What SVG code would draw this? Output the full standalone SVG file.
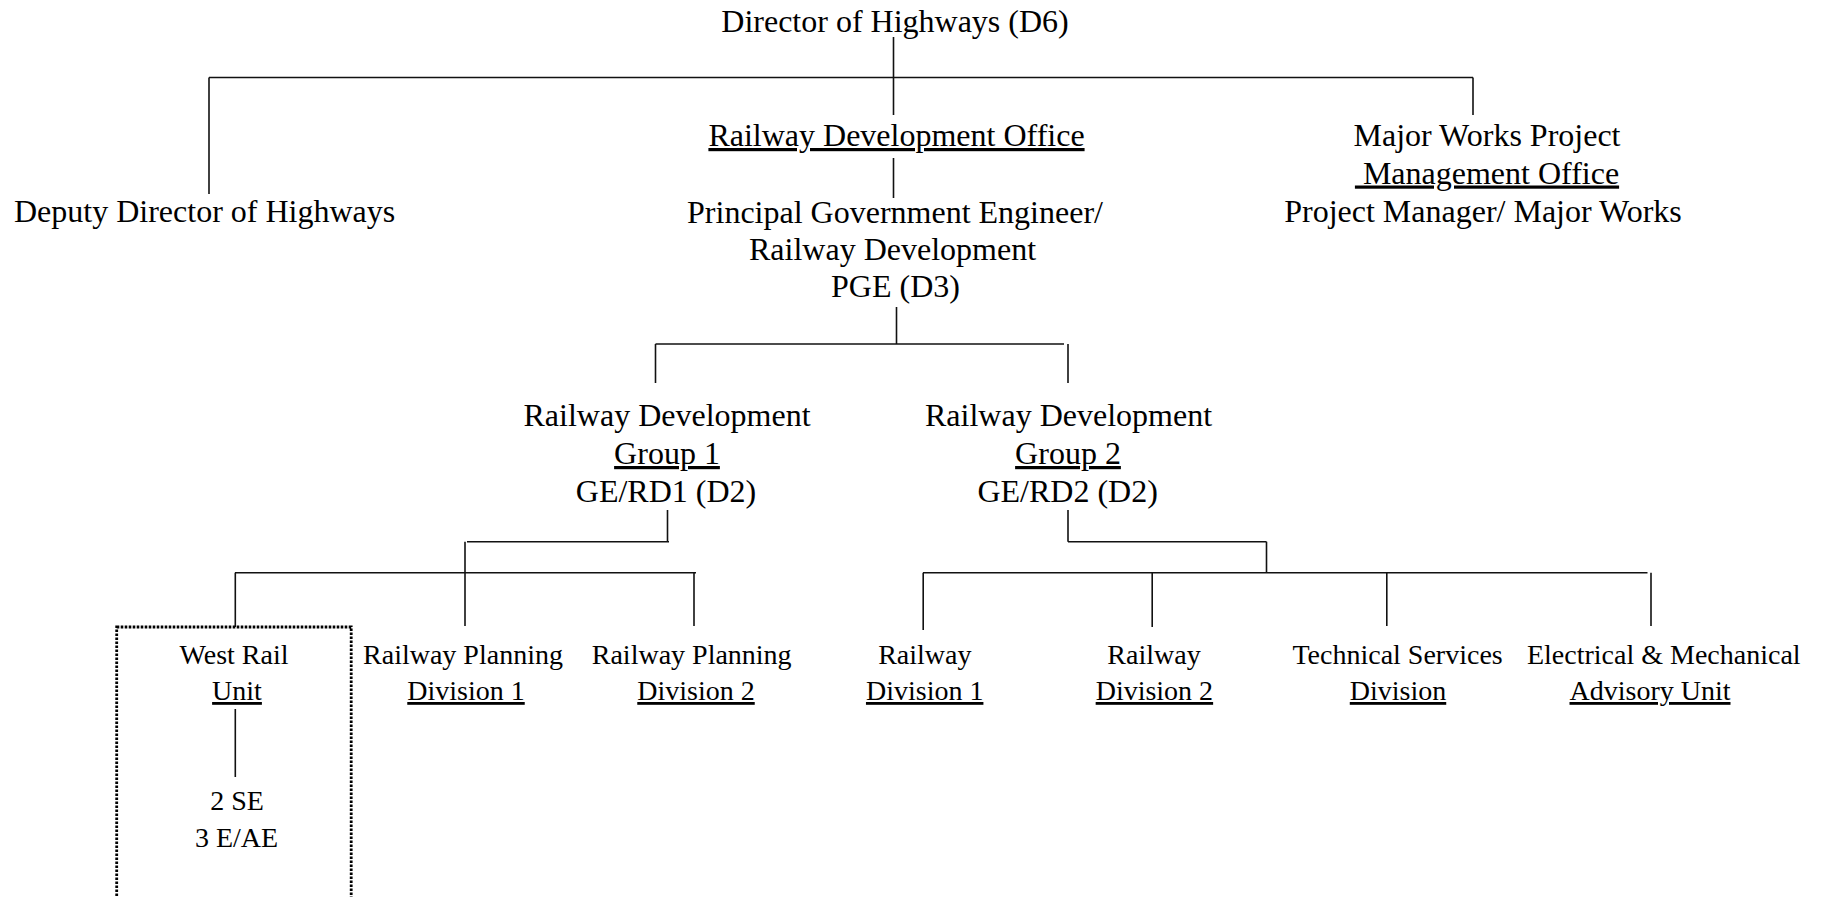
<svg xmlns="http://www.w3.org/2000/svg" width="1823" height="897" viewBox="0 0 1823 897">
<style>
text{font-family:"Liberation Serif","Times New Roman",serif;fill:#000;text-anchor:middle}
.l{font-size:32px}
.s{font-size:28px}
.u{text-decoration:underline}
.c line{stroke:#111;stroke-width:1.6;fill:none}
.dot{fill:none;stroke:#000;stroke-width:2.8;stroke-dasharray:2.6 1.4}
</style>
<rect width="1823" height="897" fill="#fff"/>
<g id="connectors" class="c">
<line x1="893.5" y1="37" x2="893.5" y2="115"/>
<line x1="209" y1="77.5" x2="1473" y2="77.5"/>
<line x1="209" y1="77.5" x2="209" y2="194"/>
<line x1="1473" y1="77.5" x2="1473" y2="115"/>
<line x1="893.5" y1="158" x2="893.5" y2="198"/>
<line x1="896.5" y1="307" x2="896.5" y2="344"/>
<line x1="655.5" y1="344" x2="1064" y2="344"/>
<line x1="655.5" y1="344" x2="655.5" y2="383"/>
<line x1="1068" y1="344" x2="1068" y2="383"/>
<line x1="667.5" y1="510" x2="667.5" y2="541.7"/>
<line x1="467" y1="541.7" x2="669" y2="541.7"/>
<line x1="465" y1="541.7" x2="465" y2="626"/>
<line x1="235" y1="572.7" x2="696" y2="572.7"/>
<line x1="235.3" y1="572.7" x2="235.3" y2="627"/>
<line x1="694" y1="572.7" x2="694" y2="626"/>
<line x1="1068" y1="510" x2="1068" y2="541.7"/>
<line x1="1068" y1="541.7" x2="1266.5" y2="541.7"/>
<line x1="1266.5" y1="541.7" x2="1266.5" y2="572.7"/>
<line x1="923" y1="572.7" x2="1647.5" y2="572.7"/>
<line x1="923.2" y1="572.7" x2="923.2" y2="630"/>
<line x1="1152.2" y1="572.7" x2="1152.2" y2="627"/>
<line x1="1386.8" y1="572.7" x2="1386.8" y2="626"/>
<line x1="1651" y1="572.7" x2="1651" y2="626"/>
<line x1="235.3" y1="709" x2="235.3" y2="777"/>
</g>
<g id="director">
<text class="l" x="895" y="32">Director of Highways (D6)</text>
</g>
<g id="deputy">
<text class="l" x="14" y="222" style="text-anchor:start">Deputy Director of Highways</text>
</g>
<g id="rdo">
<text class="l u" x="896.5" y="146">Railway Development Office</text>
</g>
<g id="pge">
<text class="l" x="895" y="222.5">Principal Government Engineer/</text>
<text class="l" x="892.5" y="260">Railway Development</text>
<text class="l" x="895.5" y="297">PGE (D3)</text>
</g>
<g id="mwpmo">
<text class="l" x="1487" y="146">Major Works Project</text>
<text class="l u" x="1487" y="183.5" xml:space="preserve"> Management Office</text>
<text class="l" x="1483" y="222">Project Manager/ Major Works</text>
</g>
<g id="group1">
<text class="l" x="667" y="426">Railway Development</text>
<text class="l u" x="667" y="464">Group 1</text>
<text class="l" x="666" y="501.7">GE/RD1 (D2)</text>
</g>
<g id="group2">
<text class="l" x="1068.5" y="426">Railway Development</text>
<text class="l u" x="1068" y="464">Group 2</text>
<text class="l" x="1067.6" y="501.7">GE/RD2 (D2)</text>
</g>
<g id="westrail">
<rect class="dot" x="116.7" y="627" width="234.5" height="290"/>
<text class="s" x="234" y="664">West Rail</text>
<text class="s u" x="237" y="700">Unit</text>
<text class="s" x="237" y="810">2 SE</text>
<text class="s" x="236.5" y="846.7">3 E/AE</text>
</g>
<g id="rpd1">
<text class="s" x="463" y="664">Railway Planning</text>
<text class="s u" x="466" y="700">Division 1</text>
</g>
<g id="rpd2">
<text class="s" x="691.7" y="664">Railway Planning</text>
<text class="s u" x="696" y="700">Division 2</text>
</g>
<g id="rd1">
<text class="s" x="924.8" y="664">Railway</text>
<text class="s u" x="924.7" y="700">Division 1</text>
</g>
<g id="rd2">
<text class="s" x="1154" y="664">Railway</text>
<text class="s u" x="1154.4" y="700">Division 2</text>
</g>
<g id="tsd">
<text class="s" x="1397.6" y="664">Technical Services</text>
<text class="s u" x="1398" y="700">Division</text>
</g>
<g id="emau">
<text class="s" x="1663.8" y="664">Electrical &amp; Mechanical</text>
<text class="s u" x="1650" y="700">Advisory Unit</text>
</g>
</svg>
